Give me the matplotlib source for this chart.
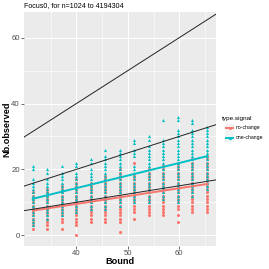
import numpy as np
import matplotlib
matplotlib.use("Agg")
import matplotlib.pyplot as plt

plt.rcParams["font.family"] = ["Liberation Sans", "DejaVu Sans"]

# ---- data ----
bounds = [31.5, 34.3, 37.2, 40.0, 42.8, 45.6, 48.5, 51.3, 54.1, 56.9, 59.7, 62.5, 65.4]

def rng(a, b):
    return list(range(a, b + 1))

no_change = [
    rng(2, 13),
    rng(2, 14),
    [2] + rng(4, 15),
    [0] + rng(3, 17),
    rng(4, 16),
    rng(4, 18),
    [1] + rng(4, 20),
    [5] + rng(7, 18) + [22],
    rng(6, 20),
    rng(6, 21),
    [4, 6] + rng(8, 22),
    rng(7, 23),
    rng(7, 24),
]
one_change = [
    rng(3, 17) + [20, 21],
    rng(5, 17) + [19, 20],
    rng(6, 19) + [21],
    rng(7, 19) + [21, 22],
    rng(8, 20) + [22, 23],
    rng(8, 24) + [26],
    rng(9, 24) + [25, 26],
    [v for v in rng(10, 26) if v not in (22, 23)] + [28, 29],
    rng(10, 27) + [29, 30],
    rng(11, 29) + [35],
    rng(10, 32) + [35, 36],
    rng(12, 32) + [34, 35],
    rng(14, 33),
]
ref_slopes = [1.0, 0.5, 0.25]
series_names = ["no-change", "one-change"]
colors = {"no-change": "#F8766D", "one-change": "#00BFC4"}
title = "Focus0, for n=1024 to 4194304"

# ---- figure ----
W = H = 269
fig = plt.figure(figsize=(W / 100, H / 100), dpi=100)
left, right, top, bottom = 24, 215.7, 11.7, 245.7
ax = fig.add_axes([left / W, 1 - bottom / H, (right - left) / W, (bottom - top) / H])
ax.set_facecolor("#EBEBEB")
for s in ax.spines.values():
    s.set_visible(False)

xlim = (29.8, 67.1)
ylim = (-3.2, 67.9)
ax.set_xlim(*xlim)
ax.set_ylim(*ylim)
ax.set_xticks([40, 50, 60])
ax.set_xticks([35, 45, 55, 65], minor=True)
ax.set_yticks([0, 20, 40, 60])
ax.set_yticks([10, 30, 50], minor=True)
ax.grid(which="major", color="white", linewidth=0.75)
ax.grid(which="minor", color="white", linewidth=0.4)
ax.set_axisbelow(True)
ax.tick_params(which="major", length=2, width=0.5, color="#333333",
               labelsize=5.6, labelcolor="#4D4D4D", pad=1)
ax.tick_params(which="minor", length=0)

MS = 5.0
# points
for name, data, marker, z in [("no-change", no_change, "o", 2), ("one-change", one_change, "^", 3)]:
    xs = np.concatenate([[b] * len(v) for b, v in zip(bounds, data)])
    ys = np.concatenate([v for v in data])
    ax.scatter(xs, ys, s=MS, marker=marker, color=colors[name], linewidths=0, zorder=z)

# regression lines
for name, data in [("no-change", no_change), ("one-change", one_change)]:
    xs = np.concatenate([[b] * len(v) for b, v in zip(bounds, data)])
    ys = np.concatenate([v for v in data])
    k, c = np.polyfit(xs, ys, 1)
    xx = np.array([min(bounds), max(bounds)])
    ax.plot(xx, k * xx + c, color=colors[name], linewidth=1.4, zorder=4)

# reference ablines
xx = np.array(xlim)
for sl in ref_slopes:
    ax.plot(xx, sl * xx, color="#222222", linewidth=0.7, zorder=5)

fig.text(120 / W, 1 - 261.5 / H, "Bound", fontsize=6.6, fontweight="bold", va="center", ha="center")
fig.text(7 / W, 1 - 129 / H, "Nb.observed", fontsize=6.6, fontweight="bold",
         va="center", ha="center", rotation=90)
fig.text(left / W, 1 - 5.5 / H, title, fontsize=5.1, va="center", ha="left")

# legend
fig.text(222 / W, 1 - 118 / H, "type.signal", fontsize=4.6, va="center", ha="left")
for i, name in enumerate(series_names):
    yc = 128 + i * 9.7
    kax = fig.add_axes([225 / W, 1 - (yc + 4.5) / H, 9 / W, 9 / H])
    kax.set_facecolor("#F2F2F2")
    kax.set_xlim(0, 1)
    kax.set_ylim(0, 1)
    kax.set_xticks([])
    kax.set_yticks([])
    for s in kax.spines.values():
        s.set_visible(False)
    kax.plot([0.1, 0.9], [0.5, 0.5], color=colors[name], linewidth=1.4)
    kax.scatter([0.5], [0.5], s=MS, marker="o" if i == 0 else "^", color=colors[name], linewidths=0)
    fig.text(236 / W, 1 - yc / H, name, fontsize=3.7, va="center", ha="left")

fig.savefig("out.png", dpi=100)
